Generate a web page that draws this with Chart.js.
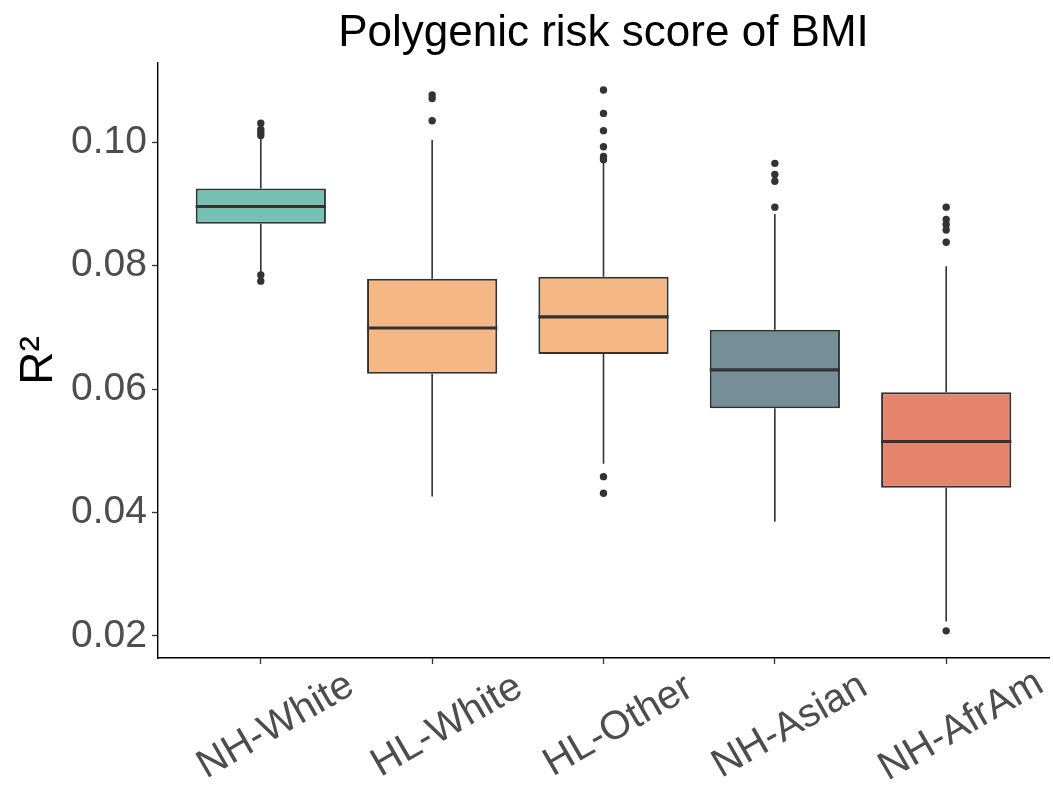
<!DOCTYPE html>
<html>
<head>
<meta charset="utf-8">
<script src="https://cdn.jsdelivr.net/npm/chart.js@4/dist/chart.umd.min.js"></script>
<style>
  html, body { margin: 0; padding: 0; background: #fff; }
</style>
</head>
<body>
<canvas id="boxChart" width="1053" height="788"></canvas>
<script>
const groups = ["NH-White", "HL-White", "HL-Other", "NH-Asian", "NH-AfrAm"];
const whiskerLow = [0.0790, 0.0426, 0.0479, 0.0385, 0.0223];
const q1 = [0.0868, 0.0625, 0.0657, 0.0569, 0.0440];
const median = [0.0896, 0.0699, 0.0717, 0.0631, 0.0515];
const q3 = [0.0925, 0.0779, 0.0782, 0.0696, 0.0595];
const whiskerHigh = [0.1010, 0.1004, 0.0967, 0.0884, 0.0799];
const outliers = [
  [0.1031, 0.1021, 0.1016, 0.1011, 0.0785, 0.0775],
  [0.1077, 0.1071, 0.1035],
  [0.1085, 0.1047, 0.1019, 0.0993, 0.0977, 0.0972, 0.0458, 0.0431],
  [0.0966, 0.0948, 0.0937, 0.0895],
  [0.0895, 0.0875, 0.0867, 0.0858, 0.0838, 0.0208]
];
const yTicks = [0.02, 0.04, 0.06, 0.08, 0.10];
const boxColors = ["#76c1b4", "#f5b783", "#f5b783", "#768e98", "#e4846d"];

const FONT = '"Liberation Sans", Arial, sans-serif';
const INK = '#333333';

// whiskers behind the boxes, medians and rotated group labels on top
const boxParts = {
  id: 'boxParts',
  beforeDatasetsDraw(chart) {
    const {ctx, scales: {x, y}} = chart;
    ctx.save();
    ctx.strokeStyle = INK;
    ctx.lineWidth = 1.6;
    groups.forEach((g, i) => {
      const px = x.getPixelForValue(i + 1);
      ctx.beginPath();
      ctx.moveTo(px, y.getPixelForValue(whiskerLow[i]));
      ctx.lineTo(px, y.getPixelForValue(q1[i]));
      ctx.moveTo(px, y.getPixelForValue(q3[i]));
      ctx.lineTo(px, y.getPixelForValue(whiskerHigh[i]));
      ctx.stroke();
    });
    ctx.restore();
  },
  afterDatasetsDraw(chart) {
    const {ctx, scales: {y}} = chart;
    const meta = chart.getDatasetMeta(0);
    ctx.save();
    ctx.strokeStyle = INK;
    ctx.lineWidth = 3.2;
    meta.data.forEach((bar, i) => {
      const {x: bx, width} = bar.getProps(['x', 'width'], true);
      const py = y.getPixelForValue(median[i]);
      ctx.beginPath();
      ctx.moveTo(bx - width / 2, py);
      ctx.lineTo(bx + width / 2, py);
      ctx.stroke();
    });
    ctx.restore();
  },
  afterDraw(chart) {
    const {ctx, scales: {x}} = chart;
    ctx.save();
    ctx.font = '40px ' + FONT;
    ctx.fillStyle = '#4d4d4d';
    ctx.textAlign = 'center';
    ctx.textBaseline = 'middle';
    groups.forEach((g, i) => {
      const px = x.getPixelForValue(i + 1) + 15;
      ctx.save();
      ctx.translate(px, x.top + 68);
      ctx.rotate(-Math.PI / 6);
      ctx.fillText(g, 0, 0);
      ctx.restore();
    });
    ctx.restore();
  }
};

const outlierPoints = [];
outliers.forEach((list, i) => list.forEach(v => outlierPoints.push({x: i + 1, y: v})));

new Chart(document.getElementById('boxChart'), {
  type: 'bar',
  data: {
    datasets: [{
      data: groups.map((g, i) => ({x: i + 1, y: [q1[i], q3[i]]})),
      backgroundColor: boxColors,
      borderColor: INK,
      borderWidth: 2,
      borderSkipped: false,
      categoryPercentage: 1,
      barPercentage: 0.76
    }, {
      type: 'scatter',
      data: outlierPoints,
      pointRadius: 3.7,
      pointBackgroundColor: INK,
      pointBorderWidth: 0
    }]
  },
  options: {
    responsive: false,
    animation: false,
    layout: { padding: { left: 0, right: 3, top: 0, bottom: 0 } },
    plugins: {
      legend: { display: false },
      tooltip: { enabled: false },
      title: {
        display: true,
        text: 'Polygenic risk score of BMI',
        fullSize: false,
        color: '#000',
        font: { family: FONT, size: 44, weight: 'normal' },
        padding: { top: 7, bottom: 3 }
      }
    },
    scales: {
      x: {
        type: 'linear',
        min: 0.4,
        max: 5.6,
        offset: false,
        afterBuildTicks: s => { s.ticks = groups.map((g, i) => ({value: i + 1})); },
        afterFit: s => { s.height = 130; },
        ticks: { display: false },
        grid: { drawOnChartArea: false, offset: false, tickLength: 6, color: INK, tickWidth: 1.3 },
        border: { color: '#000', width: 1.4 }
      },
      y: {
        min: 0.0164,
        max: 0.1129,
        afterBuildTicks: s => { s.ticks = yTicks.map(v => ({value: v})); },
        afterFit: s => { s.width = 158; },
        ticks: {
          callback: v => v.toFixed(2),
          color: '#4d4d4d',
          font: { family: FONT, size: 39 },
          padding: 5
        },
        grid: { drawOnChartArea: false, tickLength: 6, color: INK, tickWidth: 1.3 },
        border: { color: '#000', width: 1.4 },
        title: {
          display: true,
          text: 'R²',
          color: '#000',
          font: { family: FONT, size: 46 },
          padding: { top: 12, bottom: 0 }
        }
      }
    }
  },
  plugins: [boxParts]
});
</script>
</body>
</html>
